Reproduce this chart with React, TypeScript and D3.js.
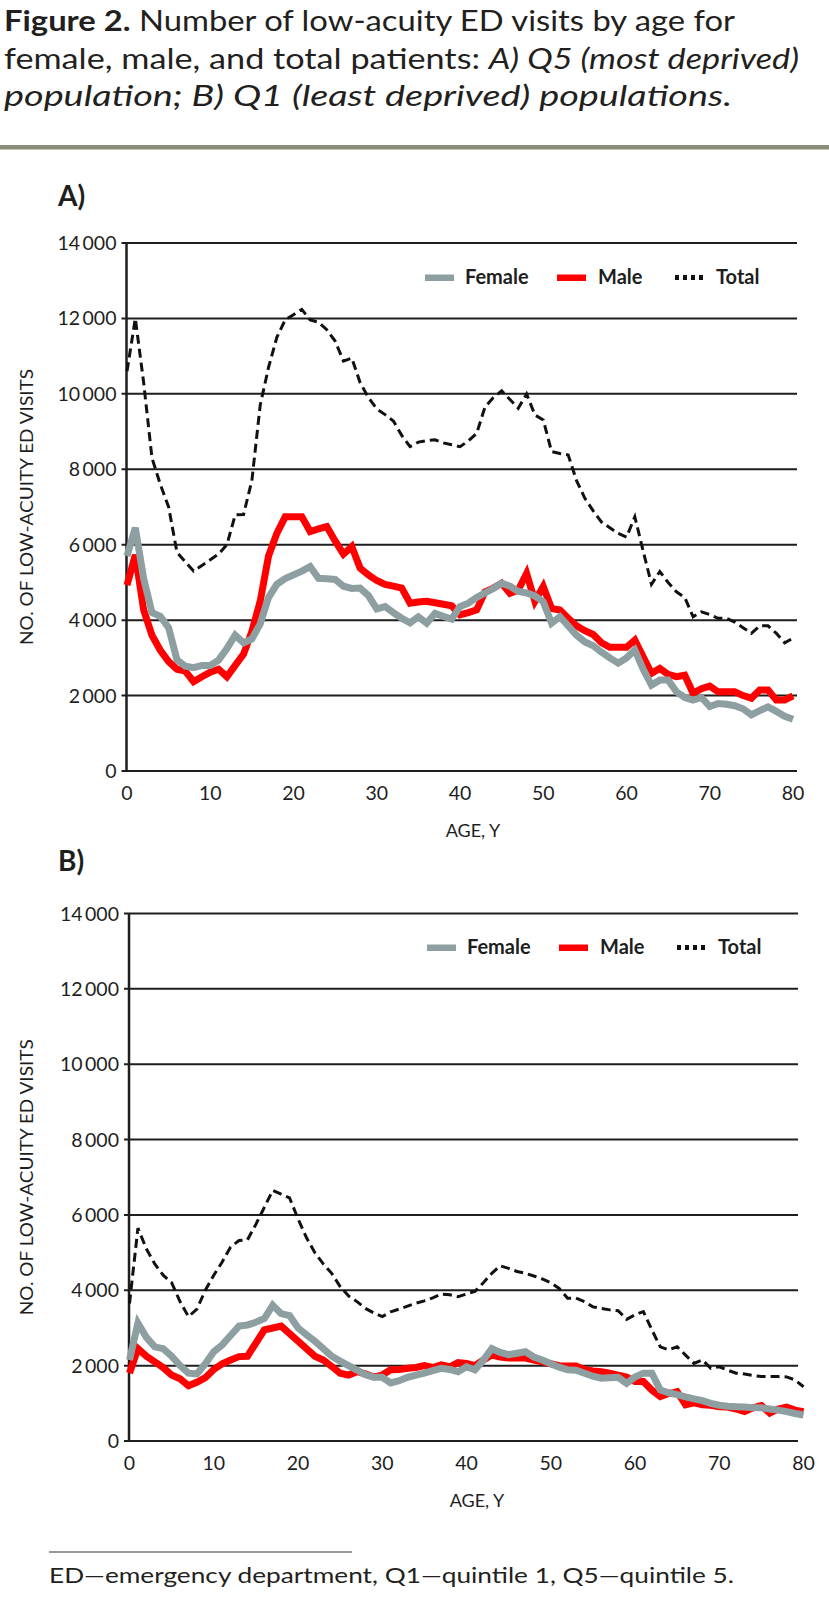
import React from "react";
import * as d3 from "d3";

const ageCategories = [
  0, 1, 2, 3, 4, 5, 6, 7, 8, 9, 10, 11, 12, 13, 14, 15, 16, 17, 18, 19, 20,
  21, 22, 23, 24, 25, 26, 27, 28, 29, 30, 31, 32, 33, 34, 35, 36, 37, 38, 39, 40,
  41, 42, 43, 44, 45, 46, 47, 48, 49, 50, 51, 52, 53, 54, 55, 56, 57, 58, 59, 60,
  61, 62, 63, 64, 65, 66, 67, 68, 69, 70, 71, 72, 73, 74, 75, 76, 77, 78, 79, 80,
];

// Panel A: Q5 (most deprived)
const femaleQ5 = [
  5700, 6450, 5100, 4200, 4100, 3800, 2950, 2780, 2740, 2800,
  2800, 2940, 3250, 3600, 3400, 3500, 3900, 4600, 4950, 5100,
  5200, 5300, 5420, 5110, 5100, 5080, 4900, 4840, 4850, 4650,
  4300, 4360, 4200, 4050, 3930, 4090, 3920, 4180, 4100, 4030,
  4360, 4450, 4600, 4720, 4840, 4980, 4900, 4760, 4720, 4640,
  4490, 3920, 4090, 3850, 3600, 3420, 3320, 3150, 3000, 2860,
  3000, 3210, 2700, 2280, 2410, 2410, 2100, 1950, 1880, 1950,
  1710, 1790, 1770, 1730, 1650, 1490, 1600, 1700, 1580, 1450, 1370,
];
const maleQ5 = [
  4930, 5730, 4270, 3600, 3200, 2900, 2700, 2650, 2370, 2500,
  2620, 2700, 2500, 2800, 3100, 3700, 4500, 5700, 6300, 6740,
  6740, 6740, 6350, 6420, 6480, 6100, 5750, 5950, 5380, 5200,
  5050, 4950, 4900, 4850, 4450, 4480, 4500, 4460, 4420, 4380,
  4140, 4200, 4270, 4750, 4850, 4980, 4710, 4800, 5240, 4500,
  4890, 4310, 4270, 4050, 3850, 3720, 3620, 3400, 3280, 3280,
  3280, 3470, 3030, 2590, 2720, 2560, 2500, 2540, 2060, 2180,
  2250, 2100, 2100, 2100, 2000, 1930, 2150, 2150, 1880, 1880, 1990,
];
const totalQ5 = [
  10600, 12000, 10300, 8300, 7600, 7000, 5800, 5550, 5300, 5450,
  5600, 5750, 6000, 6790, 6800, 7700, 9700, 10700, 11500, 11960,
  12100, 12240, 11960, 11900, 11700, 11400, 10870, 10950, 10300, 9900,
  9600, 9450, 9280, 8900, 8600, 8720, 8760, 8780, 8700, 8650,
  8600, 8750, 8950, 9650, 9900, 10080, 9850, 9620, 10000, 9440,
  9310, 8470, 8420, 8380, 7700, 7230, 6900, 6600, 6450, 6300,
  6200, 6740, 5835, 4950, 5290, 5000, 4750, 4600, 4090, 4220,
  4150, 4050, 4050, 3950, 3800, 3650, 3850, 3850, 3650, 3400, 3520,
];

// Panel B: Q1 (least deprived)
const femaleQ1 = [
  2150, 3130, 2750, 2500, 2450, 2250, 2000, 1800, 1780, 2050,
  2370, 2550, 2800, 3050, 3080, 3150, 3250, 3600, 3380, 3330,
  3000, 2820, 2650, 2450, 2250, 2120, 2000, 1880, 1760, 1690,
  1690, 1540, 1600, 1690, 1750, 1800, 1870, 1930, 1900, 1840,
  1970, 1890, 2150, 2450, 2350, 2290, 2330, 2370, 2230, 2150,
  2050, 1960, 1890, 1880, 1800, 1720, 1665, 1680, 1690, 1530,
  1700, 1800, 1800, 1355, 1280, 1230, 1170, 1120, 1070, 1000,
  950, 920, 910, 900, 880, 880, 850, 820, 780, 730, 690,
];
const maleQ1 = [
  1800, 2450, 2250, 2100, 1950, 1750, 1650, 1470, 1560, 1680,
  1900, 2050, 2150, 2240, 2250, 2600, 2950, 3000, 3050, 2850,
  2650, 2450, 2250, 2150, 1980, 1800, 1750, 1840, 1780, 1700,
  1750, 1890, 1900, 1930, 1950, 2000, 1950, 2020, 1970, 2080,
  2060, 2000, 2150, 2280, 2230, 2200, 2200, 2200, 2150, 2100,
  2050, 2000, 1990, 1990, 1900, 1860, 1840, 1800, 1750, 1700,
  1580, 1580, 1350, 1180, 1260, 1310, 960, 1010, 960, 950,
  910, 900, 850, 780, 880, 940, 740, 850, 900, 820, 780,
];
const totalQ1 = [
  3650, 5650, 5100, 4700, 4400, 4200, 3700, 3300, 3500, 4000,
  4400, 4750, 5150, 5320, 5340, 5750, 6200, 6650, 6550, 6450,
  5900, 5400, 5000, 4700, 4450, 4100, 3850, 3700, 3520, 3400,
  3300, 3430, 3500, 3580, 3660, 3720, 3800, 3900, 3880, 3830,
  3900, 3970, 4200, 4450, 4650, 4580, 4500, 4450, 4380, 4300,
  4200, 4050, 3790, 3790, 3700, 3560, 3520, 3480, 3460, 3230,
  3350, 3435, 2950, 2500, 2420, 2500, 2280, 2060, 2150, 1930,
  1970, 1880, 1800, 1780, 1740, 1710, 1710, 1710, 1700, 1620, 1440,
];

const yTickValues = [0, 2000, 4000, 6000, 8000, 10000, 12000, 14000];
const xTickValues = [0, 10, 20, 30, 40, 50, 60, 70, 80];
const seriesNames = ["Female", "Male", "Total"];

const FEMALE = "#8e9fa2";
const MALE = "#fe0000";
const INK = "#1e1e1e";
const FONT = "Lato, 'Open Sans', sans-serif";

const fmt = (v: number) => (v >= 1000 ? d3.format(",")(v).replace(",", "\u2009") : String(v));

type PanelCfg = {
  label: string;
  labelY: number;
  yTop: number;
  yBottom: number;
  x0: number;
  x1: number;
  axisX: number;
  gridRight: number;
  legendX: number;
  legendBaseline: number;
  ageLabelX: number;
};

const panelA: PanelCfg = {
  label: "A)", labelY: 206, yTop: 243, yBottom: 771, x0: 127, x1: 793,
  axisX: 126.5, gridRight: 797, legendX: 425, legendBaseline: 283.5, ageLabelX: 473,
};
const panelB: PanelCfg = {
  label: "B)", labelY: 871, yTop: 913.5, yBottom: 1441, x0: 129.5, x1: 803.5,
  axisX: 129, gridRight: 798, legendX: 427, legendBaseline: 953.5, ageLabelX: 477,
};

function Panel({ cfg, female, male, total }: { cfg: PanelCfg; female: number[]; male: number[]; total: number[] }) {
  const x = d3.scaleLinear().domain([0, 80]).range([cfg.x0, cfg.x1]);
  const y = d3.scaleLinear().domain([0, 14000]).range([cfg.yBottom, cfg.yTop]);
  const line = d3
    .line<number>()
    .x((_, i) => x(ageCategories[i]))
    .y((d) => y(d));
  const titleCenter = (cfg.yTop + cfg.yBottom) / 2;
  const lx = cfg.legendX;
  const lb = cfg.legendBaseline;
  return (
    <g>
      <text x={58} y={cfg.labelY} fontFamily={FONT} fontWeight={700} fontSize={28} fill={INK}>
        {cfg.label}
      </text>
      {yTickValues.map((t) => (
        <g key={t}>
          <line x1={cfg.axisX - 5} x2={cfg.gridRight} y1={y(t)} y2={y(t)} stroke={INK} strokeWidth={2} />
          <text
            x={cfg.axisX - 10}
            y={y(t)}
            dy="0.36em"
            textAnchor="end"
            fontFamily={FONT}
            fontSize={19.5}
            fill={INK}
          >
            {fmt(t)}
          </text>
        </g>
      ))}
      <line x1={cfg.axisX} x2={cfg.axisX} y1={cfg.yTop} y2={cfg.yBottom + 1} stroke={INK} strokeWidth={2.5} />
      {xTickValues.map((t) => (
        <text key={t} x={x(t)} y={cfg.yBottom + 29} textAnchor="middle" fontFamily={FONT} fontSize={19.5} fill={INK}>
          {t}
        </text>
      ))}
      <text x={cfg.ageLabelX} y={cfg.yBottom + 66} textAnchor="middle" fontFamily={FONT} fontSize={18} fill={INK}>
        AGE, Y
      </text>
      <text
        transform={`translate(33,${titleCenter}) rotate(-90)`}
        textAnchor="middle"
        fontFamily={FONT}
        fontSize={18}
        fill={INK}
        textLength={276}
        lengthAdjust="spacingAndGlyphs"
      >
        NO. OF LOW-ACUITY ED VISITS
      </text>

      <path d={line(male) || ""} fill="none" stroke={MALE} strokeWidth={7} strokeLinejoin="miter" />
      <path d={line(female) || ""} fill="none" stroke={FEMALE} strokeWidth={7} strokeLinejoin="miter" />
      <path d={line(total) || ""} fill="none" stroke="#111" strokeWidth={3} strokeDasharray="9,5" />

      {/* legend */}
      <rect x={lx} y={lb - 9} width={29} height={6.5} fill={FEMALE} />
      <text x={lx + 40} y={lb} fontFamily={FONT} fontWeight={700} fontSize={20} fill={INK}>
        {seriesNames[0]}
      </text>
      <rect x={lx + 132} y={lb - 9} width={29} height={6.5} fill={MALE} />
      <text x={lx + 173} y={lb} fontFamily={FONT} fontWeight={700} fontSize={20} fill={INK}>
        {seriesNames[1]}
      </text>
      <line
        x1={lx + 250}
        x2={lx + 280}
        y1={lb - 6}
        y2={lb - 6}
        stroke="#111"
        strokeWidth={5}
        strokeDasharray="4,4"
      />
      <text x={lx + 291} y={lb} fontFamily={FONT} fontWeight={700} fontSize={20} fill={INK}>
        {seriesNames[2]}
      </text>
    </g>
  );
}

export default function App() {
  return (
    <svg
      width={829}
      height={1606}
      viewBox="0 0 829 1606"
      style={{ position: "absolute", left: 0, top: 0, background: "#fff" }}
    >
      <rect x={0} y={0} width={829} height={1606} fill="#fff" />
      <text x={4} y={31} fontFamily={FONT} fontSize={28} fill="#231f20" textLength={731} lengthAdjust="spacingAndGlyphs">
        <tspan fontWeight={700}>Figure 2.</tspan> Number of low-acuity ED visits by age for
      </text>
      <text x={4} y={69} fontFamily={FONT} fontSize={28} fill="#231f20" textLength={795} lengthAdjust="spacingAndGlyphs">
        female, male, and total patients: <tspan fontStyle="italic">A) Q5 (most deprived)</tspan>
      </text>
      <text
        x={4}
        y={106}
        fontFamily={FONT}
        fontSize={28}
        fontStyle="italic"
        fill="#231f20"
        textLength={728}
        lengthAdjust="spacingAndGlyphs"
      >
        population; B) Q1 (least deprived) populations.
      </text>
      <rect x={0} y={145} width={829} height={4.5} fill="#8a8d7a" />

      <Panel cfg={panelA} female={femaleQ5} male={maleQ5} total={totalQ5} />
      <Panel cfg={panelB} female={femaleQ1} male={maleQ1} total={totalQ1} />

      <line x1={49} x2={352} y1={1552} y2={1552} stroke="#777" strokeWidth={1.5} />
      <text x={49} y={1583} fontFamily={FONT} fontSize={21} fill="#231f20" textLength={685} lengthAdjust="spacingAndGlyphs">
        ED—emergency department, Q1—quintile 1, Q5—quintile 5.
      </text>
    </svg>
  );
}
